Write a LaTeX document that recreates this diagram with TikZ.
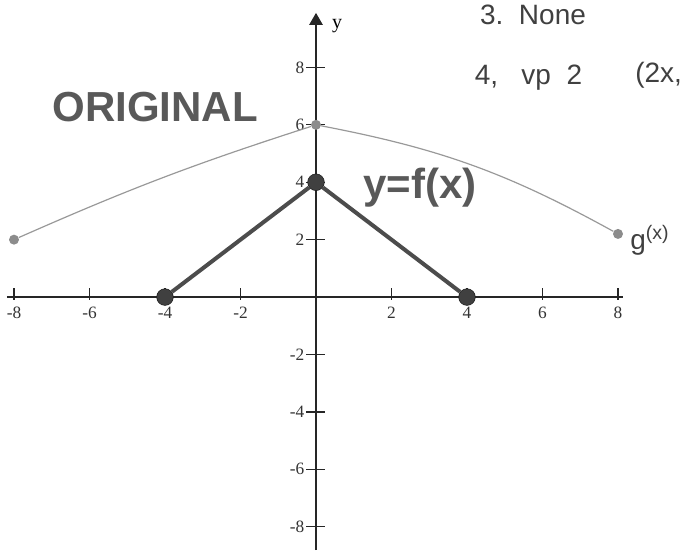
\documentclass[tikz,border=0pt]{standalone}
\usepackage{fontspec}
\setmainfont{Liberation Serif}
\newfontfamily\labelfont{Liberation Sans}
\usetikzlibrary{arrows.meta}

\begin{document}
\begin{tikzpicture}[
    x=28.31pt,
    y=21.53pt,
    axis/.style={line width=1.2pt, black!85},
    tickmark/.style={line width=0.9pt, black!85},
    ticklabel/.style={font=\fontsize{13}{13}\selectfont, text=black!80, inner sep=1pt},
    fdot/.style={circle, fill=black!75, draw=black!90, minimum size=12.5pt, inner sep=0pt},
    gdot/.style={circle, fill=black!45, minimum size=7.5pt, inner sep=0pt},
    fline/.style={line width=3pt, black!70},
    gline/.style={line width=0.9pt, black!40},
    bigtitle/.style={font=\labelfont\bfseries\fontsize{31.5}{31.5}\selectfont, text=black!65},
    handnote/.style={font=\labelfont\fontsize{21}{21}\selectfont, text=black!75, anchor=west, inner sep=0pt}
]
\useasboundingbox (-8.371,-8.815) rectangle (9.987,10.348);

% axes
\coordinate (xleft) at (-8.19,0);
\coordinate (xright) at (8.13,0);
\coordinate (ybottom) at (0,-8.815);
\coordinate (ytop) at (0,9.9);
\draw[axis] (xleft) -- (xright);
\draw[axis, -{Triangle[width=10pt,length=9pt]}] (ybottom) -- (ytop);
\node[font=\fontsize{15}{15}\selectfont] (ylabel) at (0.56,9.45) {y};

\foreach \v in {-8,-6,-4,-2,2,4,6,8} {
    \draw[tickmark] (\v,-0.1) -- (\v,0.31);
    \node[ticklabel] (xt\v) at (\v,-0.56) {\v};
    \draw[tickmark] (-0.26,\v) -- (0.24,\v);
    \node[ticklabel, anchor=east] (yt\v) at (-0.27,\v) {\v};
}

% g(x)
\node[gdot] (ga) at (-8,2) {};
\node[gdot] (gb) at (0,6) {};
\node[gdot] (gc) at (8,2.2) {};
\draw[gline] (ga) to[bend left=3] (gb);
\draw[gline] (gb) to[bend left=9] (gc);

% f(x)
\node[fdot] (fa) at (-4,0) {};
\node[fdot] (fb) at (0,4) {};
\node[fdot] (fc) at (4,0) {};
\draw[fline] (fa) -- (fb);
\draw[fline] (fb) -- (fc);

\node[bigtitle] (original) at (-4.26,6.62) {ORIGINAL};
\node[bigtitle] (fname) at (2.75,3.80) {y=f(x)};

% handwritten notes
\node[handnote] (note3) at (4.34,9.83) {3.\ \ None};
\node[handnote] (note4) at (4.20,7.63) {4,\ \ \ vp\ \ 2};
\node[handnote] (note4b) at (8.45,7.73) {(2x,};
\node[handnote] (gname) at (8.32,1.99) {g\textsuperscript{(x)}};
\end{tikzpicture}
\end{document}
